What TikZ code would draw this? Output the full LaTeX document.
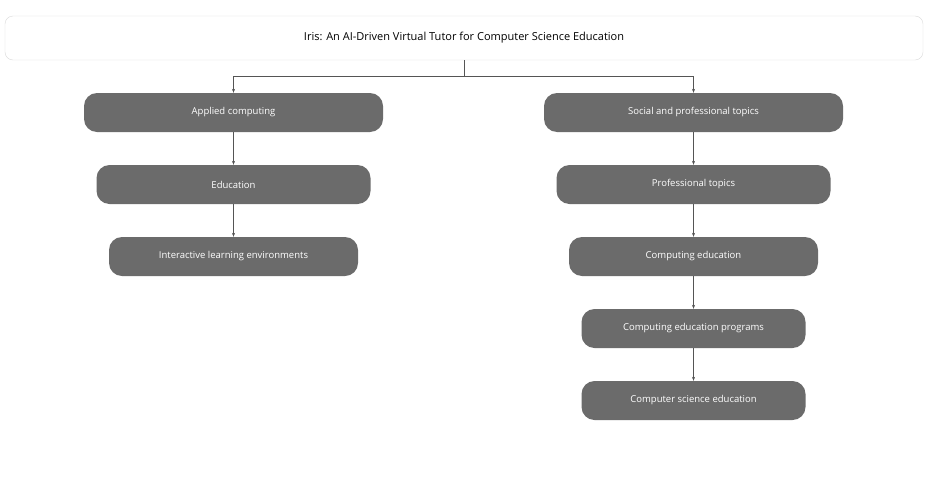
\documentclass[tikz,border=0pt]{standalone}
\usepackage{fontspec}
\setmainfont{Open Sans}
\usetikzlibrary{arrows.meta}
\definecolor{boxfill}{HTML}{6B6B6B}
\definecolor{edge}{HTML}{555555}
\begin{document}
\begin{tikzpicture}[x=1pt,y=-1pt,
  topic/.style={draw=none,fill=boxfill,rounded corners=13pt,text=white,font=\fontsize{9.5}{11}\selectfont,inner sep=0pt},
  titlebox/.style={draw=black!15,rounded corners=8pt,font=\fontsize{11}{13}\selectfont,inner sep=0pt,minimum width=918pt,minimum height=44pt},
  link/.style={draw=edge,line width=0.5pt,-{Stealth[length=4pt,width=3pt]}}]
\useasboundingbox (0,0) rectangle (941,482);
\node[titlebox] (t) at (464,38) {Iris: An AI-Driven Virtual Tutor for Computer Science Education};
\node[topic,minimum width=299pt,minimum height=39pt] (a1) at (233.5,112.5) {Applied computing};
\node[topic,minimum width=274pt,minimum height=39pt] (a2) at (233.5,184.5) {Education};
\node[topic,minimum width=249pt,minimum height=39pt] (a3) at (233.5,256.5) {Interactive learning environments};
\node[topic,minimum width=299pt,minimum height=39pt] (b1) at (693.5,112.5) {Social and professional topics};
\node[topic,minimum width=274pt,minimum height=39pt] (b2) at (693.5,184.5) {Professional topics};
\node[topic,minimum width=249pt,minimum height=39pt] (b3) at (693.5,256.5) {Computing education};
\node[topic,minimum width=224pt,minimum height=39pt] (b4) at (693.5,328.5) {Computing education programs};
\node[topic,minimum width=224pt,minimum height=39pt] (b5) at (693.5,400.5) {Computer science education};
\coordinate (j) at (464,76);
\draw[draw=edge,line width=0.5pt] (t.south) -- (j);
\draw[link] (j) -| (a1.north);
\draw[link] (j) -| (b1.north);
\draw[link] (a1) -- (a2);
\draw[link] (a2) -- (a3);
\draw[link] (b1) -- (b2);
\draw[link] (b2) -- (b3);
\draw[link] (b3) -- (b4);
\draw[link] (b4) -- (b5);
\end{tikzpicture}
\end{document}
